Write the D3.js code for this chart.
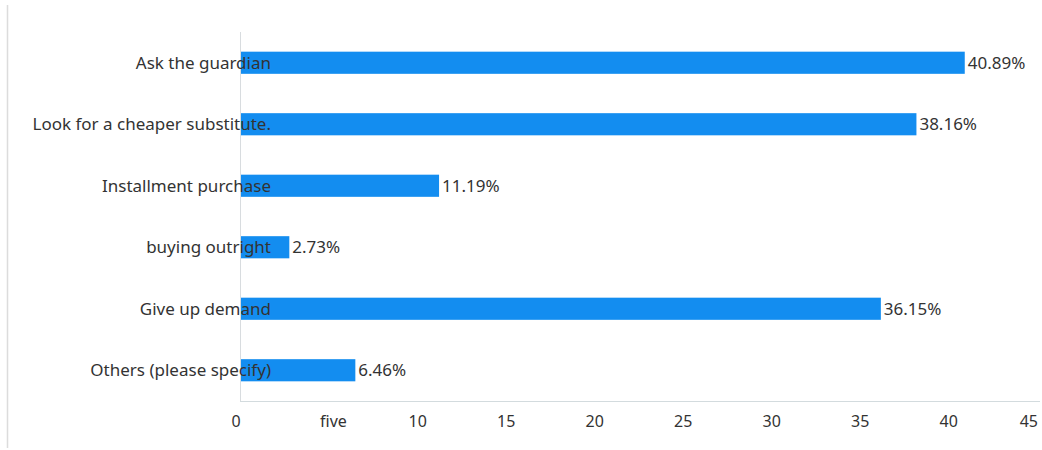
<!DOCTYPE html>
<html>
<head>
<meta charset="utf-8">
<script src="https://cdn.jsdelivr.net/npm/d3@7"></script>
<style>
  html, body { margin: 0; padding: 0; background: #fff; }
  svg { display: block; }
  text { font-family: "Noto Sans", "Open Sans", sans-serif; fill: #333; }
</style>
</head>
<body>
<svg id="chart" width="1042" height="450"></svg>
<script>
// Survey answers and their shares (percent)
const categories = [
  "Ask the guardian",
  "Look for a cheaper substitute.",
  "Installment purchase",
  "buying outright",
  "Give up demand",
  "Others (please specify)"
];
const shares = [40.89, 38.16, 11.19, 2.73, 36.15, 6.46];
const tickValues = [0, 5, 10, 15, 20, 25, 30, 35, 40, 45];
const tickLabels = ["0", "five", "10", "15", "20", "25", "30", "35", "40", "45"];

const W = 1042, H = 450;
const plot = { left: 241, right: 1037.5, top: 32, bottom: 401 };
const barColor = "#138df0";
const labelSize = 17;
const tickSize = 16;

const svg = d3.select("#chart");

// outer frame line on the left
svg.append("line")
  .attr("x1", 7.5).attr("x2", 7.5).attr("y1", 5).attr("y2", 448)
  .attr("stroke", "#dcdcdc").attr("stroke-width", 1.5);

const x = d3.scaleLinear().domain([0, 45]).range([plot.left, plot.right]);
const y = d3.scaleBand().domain(categories)
  .range([plot.top, plot.bottom])
  .paddingInner(0.64).paddingOuter(0.32);

// bottom axis: labels only, no tick marks
const xAxis = d3.axisBottom(x)
  .tickValues(tickValues)
  .tickFormat((d, i) => tickLabels[i])
  .tickSize(0)
  .tickPadding(15);

const gx = svg.append("g")
  .attr("transform", `translate(0,${plot.bottom})`)
  .call(xAxis);
gx.select(".domain").remove();
// labels start a little left of their tick; the last one is kept inside the frame
gx.selectAll("text")
  .attr("font-size", tickSize)
  .attr("font-family", "Noto Sans, Open Sans, sans-serif")
  .attr("fill", "#333")
  .attr("text-anchor", (d, i) => i === tickValues.length - 1 ? "end" : "start")
  .attr("dx", (d, i) => i === tickValues.length - 1 ? 0 : -10);

svg.append("line")
  .attr("x1", plot.left - 1).attr("x2", 1040)
  .attr("y1", plot.bottom + 0.5).attr("y2", plot.bottom + 0.5)
  .attr("stroke", "#d3dbde").attr("stroke-width", 1.2);

// bars
svg.append("g").selectAll("rect")
  .data(categories)
  .join("rect")
  .attr("x", x(0))
  .attr("y", d => y(d))
  .attr("width", (d, i) => x(shares[i]) - x(0))
  .attr("height", y.bandwidth())
  .attr("fill", barColor);

// vertical axis line
svg.append("line")
  .attr("x1", plot.left - 0.5).attr("x2", plot.left - 0.5)
  .attr("y1", plot.top).attr("y2", plot.bottom)
  .attr("stroke", "#d8dcdf").attr("stroke-width", 1);

// category labels, drawn over the start of each bar
svg.append("g").selectAll("text")
  .data(categories)
  .join("text")
  .attr("x", plot.left + 30)
  .attr("y", d => y(d) + y.bandwidth() / 2)
  .attr("dy", "0.35em")
  .attr("text-anchor", "end")
  .attr("font-size", labelSize)
  .text(d => d);

// value labels at bar ends
svg.append("g").selectAll("text")
  .data(categories)
  .join("text")
  .attr("x", (d, i) => x(shares[i]) + 3)
  .attr("y", d => y(d) + y.bandwidth() / 2)
  .attr("dy", "0.35em")
  .attr("font-size", labelSize)
  .text((d, i) => shares[i].toFixed(2) + "%");
</script>
</body>
</html>
